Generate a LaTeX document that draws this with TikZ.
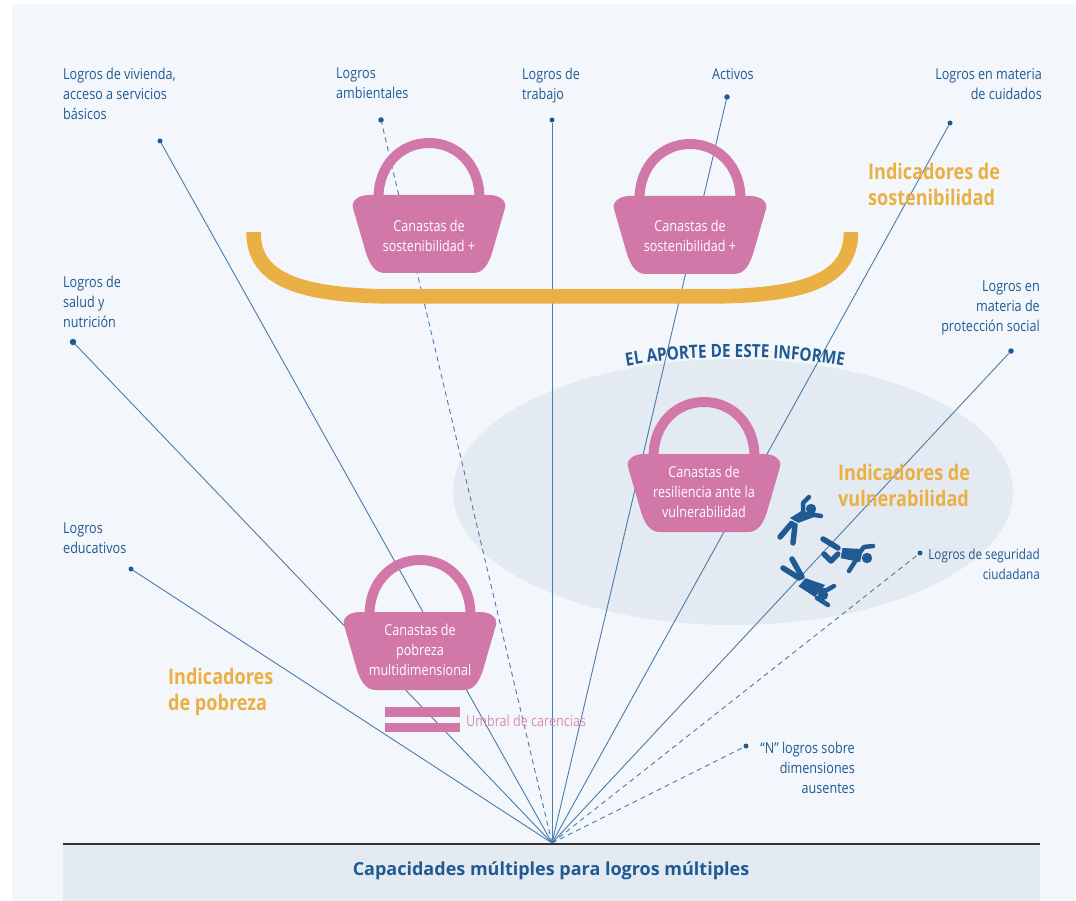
\documentclass[tikz,border=0pt]{standalone}
\usepackage{fontspec}
\setmainfont[FakeStretch=0.84]{Open Sans}
\newfontfamily\titlefont{Open Sans}
\usetikzlibrary{decorations.text}
\definecolor{paneblue}{HTML}{F3F7FB}
\definecolor{bandblue}{HTML}{E3EAF1}
\definecolor{rayblue}{HTML}{4A7BAB}
\definecolor{darkblue}{HTML}{1F5A93}
\definecolor{basketpink}{HTML}{D278A9}
\definecolor{barorange}{HTML}{EAB044}
\tikzset{
  endpoint/.style={circle,fill=darkblue,inner sep=0pt,minimum size=#1},
  endpoint/.default=5.5pt,
  ray/.style={draw=rayblue,line width=0.9pt},
  dashray/.style={ray,dash pattern=on 5pt off 4pt},
  goaltext/.style={text=darkblue,font=\fontsize{15}{20}\selectfont,inner sep=0pt,align=left},
  goalright/.style={goaltext,align=right},
  indicator/.style={text=barorange,font=\fontsize{21.5}{26}\selectfont\bfseries,inner sep=0pt,align=left},
  basketlabel/.style={text=white,font=\fontsize{15}{20}\selectfont,inner sep=0pt,align=center},
  armline/.style={draw=darkblue,line width=4.5pt,line cap=round,line join=round},
  legline/.style={draw=darkblue,line width=5.5pt,line cap=round,line join=round},
  waistline/.style={draw=bandblue,line width=0.8pt},
  pics/basket/.style={code={
    \fill[basketpink] (-60,0) -- (60,0) .. controls (71,0) and (78,6) .. (76,13)
      -- (63,58) .. controls (59,70) and (54,78) .. (44,78)
      -- (-44,78) .. controls (-54,78) and (-59,70) .. (-63,58)
      -- (-76,13) .. controls (-78,6) and (-71,0) .. (-60,0) -- cycle;
    \draw[basketpink,line width=10pt] (-50.5,3) .. controls (-50.5,-30) and (-28,-52) .. (0,-52)
      .. controls (28,-52) and (50.5,-30) .. (50.5,3);
  }}
}
\begin{document}
\begin{tikzpicture}[x=1pt,y=-1pt]
\useasboundingbox (0,0) rectangle (1076,901);
\fill[white] (0,0) rectangle (1076,901);
\fill[paneblue] (12,4) rectangle (1075,901);
\fill[bandblue] (733,492) ellipse [x radius=280,y radius=133];
\fill[bandblue] (63,843) rectangle (1040,901);

% ends of the goals
\coordinate (origin) at (552,843);
\node[endpoint=5pt] (vivienda) at (160,141) {};
\node[endpoint] (ambiente) at (381,120) {};
\node[endpoint=5pt] (trabajo) at (552,120) {};
\node[endpoint] (activos) at (727,97) {};
\node[endpoint=5pt] (cuidados) at (950,123) {};
\node[endpoint] (proteccion) at (1011,351) {};
\node[endpoint=6.5pt] (salud) at (73,342) {};
\node[endpoint=5pt] (educacion) at (131,569) {};
\node[endpoint=5pt] (seguridad) at (920,553) {};
\node[endpoint=5pt] (ausentes) at (746,746) {};

\draw[ray] (origin) -- (vivienda);
\draw[dashray] (origin) -- (ambiente);
\draw[ray] (origin) -- (trabajo);
\draw[ray] (origin) -- (activos);
\draw[ray] (origin) -- (cuidados);
\draw[ray] (origin) -- (proteccion);
\draw[ray] (origin) -- (salud);
\draw[ray] (origin) -- (educacion);
\draw[dashray] (origin) -- (seguridad);
\draw[dashray] (origin) -- (ausentes);
\draw[black!80,line width=2pt] (63,843.7) -- (1040,843.7);

% goal labels
\node[goaltext,anchor=north west] (tvivienda) at (63,68) {Logros de vivienda,\\acceso a servicios\\básicos};
\node[goaltext,anchor=north west] (tambiente) at (336,68) {Logros\\ambientales};
\node[goaltext,anchor=north west] (ttrabajo) at (522,68) {Logros de\\trabajo};
\node[goaltext,anchor=north west] (tactivos) at (712,68) {Activos};
\node[goalright,anchor=north east] (tcuidados) at (1042,68) {Logros en materia\\de cuidados};
\node[goalright,anchor=north east] (tproteccion) at (1040,281) {Logros en\\materia de\\protección social};
\node[goaltext,anchor=north west] (tsalud) at (63,276) {Logros de\\salud y\\nutrición};
\node[goaltext,anchor=north west] (teducacion) at (63,523) {Logros\\educativos};
\node[goalright,anchor=north east,font=\fontsize{14}{20}\selectfont] (tseguridad) at (1040,549) {Logros de seguridad\\ciudadana};
\node[goalright,anchor=north east] (tausentes) at (855,742) {“N” logros sobre\\dimensiones\\ausentes};

% bracket
\draw[barorange,line width=14.5pt] (253.5,232) .. controls (253.5,280) and (300,296.5) .. (400,296.5)
  -- (705,296.5) .. controls (805,296.5) and (851,280) .. (851,232);

% baskets
\pic at (429,195) {basket};
\pic at (690,196) {basket};
\pic at (704,454) {basket};
\pic at (420,612) {basket};
\node[basketlabel] (sostA) at (429,236) {Canastas de\\sostenibilidad +};
\node[basketlabel] (sostB) at (690,236) {Canastas de\\sostenibilidad +};
\node[basketlabel] (resil) at (704,492) {Canastas de\\resiliencia ante la\\vulnerabilidad};
\node[basketlabel] (pobre) at (420,650) {Canastas de\\pobreza\\multidimensional};

% threshold
\fill[basketpink] (385,707) rectangle (460,717);
\fill[basketpink] (385,723) rectangle (460,732);
\node[text=basketpink!85,font=\fontsize{15}{16}\selectfont,inner sep=0pt,anchor=west] (umbral) at (466,721) {Umbral de carencias};

% indicators
\node[indicator,anchor=north west] (isost) at (868,163) {Indicadores de\\sostenibilidad};
\node[indicator,anchor=north west] (ivuln) at (838,464) {Indicadores de\\vulnerabilidad};
\node[indicator,anchor=north west] (ipobr) at (168,668) {Indicadores\\de pobreza};

% curved heading
\path[decorate,decoration={text along path,text align=center,
  text={|\fontsize{18.2}{18}\selectfont\bfseries\color{darkblue}|EL APORTE DE ESTE INFORME}}]
  (622,367) .. controls (690,354) and (780,354) .. (848,367);

% falling people
\draw[armline] (803,518) -- (803,503) -- (809,497);
\draw[armline] (808,514) -- (821,516);
\fill[darkblue] (790,518) -- (803,510) -- (814,517) -- (798,523) -- cycle;
\fill[darkblue] (811,509) circle (5.2);
\draw[legline] (792,523) -- (780,537);
\draw[legline] (795,525) -- (793,543);
\draw[waistline] (789,519) -- (798,523);

\draw[armline] (860,552) -- (864,547) -- (873,546);
\draw[armline] (856,560) -- (849,571);
\fill[darkblue] (842,548) -- (863,549) -- (860,562) -- (840,558) -- cycle;
\fill[darkblue] (867,558) circle (5.2);
\draw[legline] (838,548) -- (823,539);
\draw[legline] (838,554) -- (831,561) -- (824,554);
\draw[waistline] (842,548) -- (840,559);

\draw[armline] (822,590) -- (827,590) -- (834,586);
\draw[armline] (817,598) -- (828,605);
\fill[darkblue] (805,578) -- (825,585) -- (815,597) -- (798,586) -- cycle;
\fill[darkblue] (823,595) circle (5.2);
\draw[legline] (799,578) -- (783,568);
\draw[legline] (802,577) -- (792,559);
\draw[waistline] (805,578) -- (798,586);

% title band
\node[text=darkblue,font=\titlefont\fontsize{18}{20}\selectfont\bfseries,inner sep=0pt] (capac) at (551,871) {Capacidades múltiples para logros múltiples};
\end{tikzpicture}
\end{document}
